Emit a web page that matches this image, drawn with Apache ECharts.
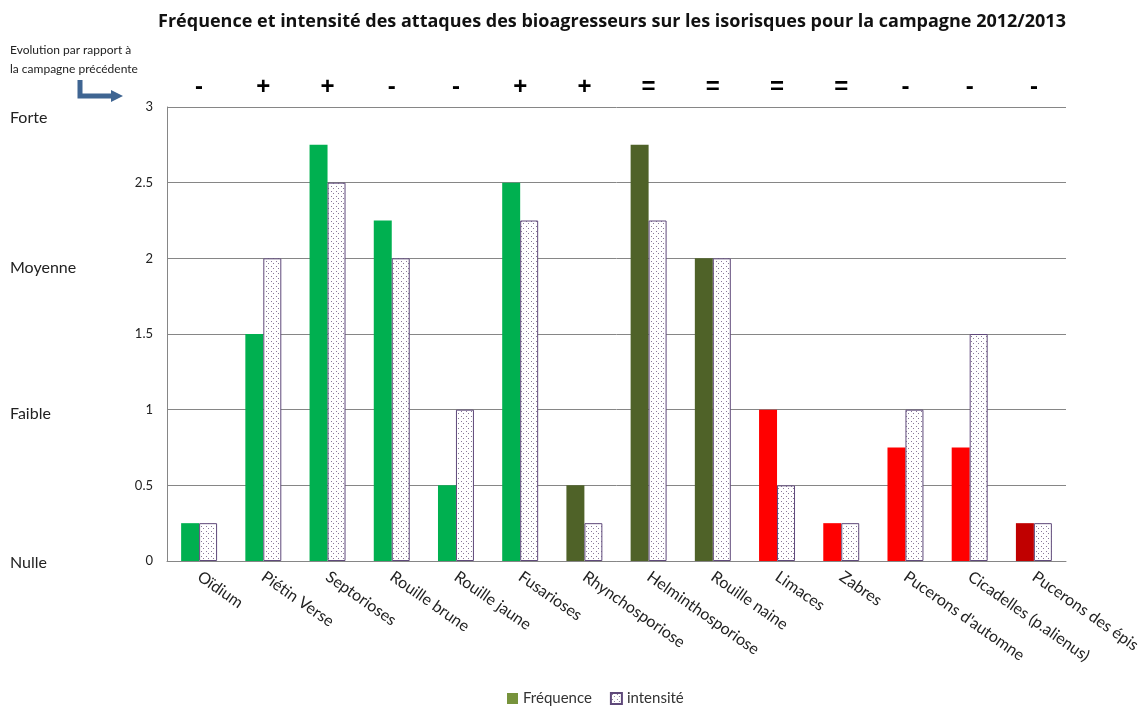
<!DOCTYPE html>
<html><head><meta charset="utf-8">
<script src="https://cdn.jsdelivr.net/npm/echarts@6/dist/echarts.min.js"></script>
<style>html,body{margin:0;background:#fff}#c{width:1146px;height:706px}</style>
</head><body><div id="c"></div><script>
// Bioagresseurs suivis
const categories = ['Oïdium', 'Piétin Verse', 'Septorioses', 'Rouille brune', 'Rouille jaune', 'Fusarioses',
  'Rhynchosporiose', 'Helminthosporiose', 'Rouille naine', 'Limaces', 'Zabres', "Pucerons d'automne",
  'Cicadelles (p.alienus)', 'Pucerons des épis'];
// Fréquence des attaques (0 = nulle ... 3 = forte)
const frequence = [0.25, 1.5, 2.75, 2.25, 0.5, 2.5, 0.5, 2.75, 2, 1, 0.25, 0.75, 0.75, 0.25];
// Intensité des attaques
const intensite = [0.25, 2, 2.5, 2, 1, 2.25, 0.25, 2.25, 2, 0.5, 0.25, 1, 1.5, 0.25];
// Evolution par rapport à la campagne précédente
const evolution = ['-', '+', '+', '-', '-', '+', '+', '=', '=', '=', '=', '-', '-', '-'];
// Niveaux qualitatifs de l'échelle
const niveauxValeurs = [0, 1, 2, 3];
const niveauxNoms = ['Nulle', 'Faible', 'Moyenne', 'Forte'];

// Couleur de chaque barre de fréquence
const couleursFreq = ['#00B050', '#00B050', '#00B050', '#00B050', '#00B050', '#00B050',
  '#4F6228', '#4F6228', '#4F6228', '#FF0000', '#FF0000', '#FF0000', '#FF0000', '#C00000'];
// Décalage vertical de chaque libellé de niveau
const niveauxStyles = ['n0', 'n1', 'n2', 'n3'];

// Motif pointillé pour l'intensité
function dotPattern() {
  const c = document.createElement('canvas');
  c.width = 5; c.height = 5;
  const g = c.getContext('2d');
  g.fillStyle = '#ffffff'; g.fillRect(0, 0, 5, 5);
  g.fillStyle = '#8a7a9a';
  g.fillRect(1, 1, 1, 1);
  g.fillRect(3, 3, 1, 1);
  return { image: c, repeat: 'repeat' };
}

const font = 'Lato, "Open Sans", sans-serif';
const niveauTexte = { fontSize: 16, color: '#222', fontFamily: font };
const chart = echarts.init(document.getElementById('c'));
chart.setOption({
  animation: false,
  backgroundColor: '#fff',
  textStyle: { fontFamily: font, color: '#222' },
  title: {
    text: 'Fréquence et intensité des attaques des bioagresseurs sur les isorisques pour la campagne 2012/2013',
    left: 607, top: 8, textAlign: 'center',
    textStyle: { fontFamily: '"Open Sans", sans-serif', fontSize: 18, fontWeight: 'bold', color: '#111' }
  },
  legend: {
    top: 686, left: 502, itemWidth: 11, itemHeight: 11, itemGap: 18, icon: 'rect',
    textStyle: { fontFamily: font, fontSize: 15, color: '#333' },
    data: [
      { name: 'Fréquence', itemStyle: { color: '#77933C', borderWidth: 0 } },
      { name: 'intensité' }
    ]
  },
  grid: { left: 167, right: 80, top: 107, bottom: 145 },
  xAxis: [
    {
      type: 'category', data: categories, position: 'bottom',
      axisLine: { lineStyle: { color: '#868686' } },
      axisTick: { show: false },
      axisLabel: { interval: 0, rotate: -35, fontSize: 16, color: '#222', margin: 14, fontFamily: font }
    },
    {
      type: 'category', data: categories, position: 'top',
      axisLine: { show: false }, axisTick: { show: false },
      axisLabel: {
        interval: 0, margin: 8, fontSize: 24, fontWeight: 'bold', color: '#000',
        fontFamily: '"Liberation Sans", Arial, sans-serif',
        formatter: (v, i) => evolution[i]
      }
    }
  ],
  yAxis: [
    {
      type: 'value', min: 0, max: 3, interval: 0.5,
      axisLine: { show: true, lineStyle: { color: '#868686' } },
      axisTick: { show: false },
      splitLine: { lineStyle: { color: '#868686', width: 1 } },
      axisLabel: { fontSize: 13, color: '#222', margin: 14, fontFamily: font }
    },
    {
      type: 'value', min: 0, max: 3, interval: 1, position: 'left',
      axisLine: { show: false }, axisTick: { show: false }, splitLine: { show: false },
      axisLabel: {
        align: 'left', margin: 157, fontSize: 16, color: '#222', fontFamily: font,
        formatter: v => {
          const k = niveauxValeurs.indexOf(v);
          return k < 0 ? '' : '{' + niveauxStyles[k] + '|' + niveauxNoms[k] + '}';
        },
        rich: {
          n0: Object.assign({ padding: [4, 0, 0, 0] }, niveauTexte),
          n1: Object.assign({ padding: [8, 0, 0, 0] }, niveauTexte),
          n2: Object.assign({ padding: [20, 0, 0, 0] }, niveauTexte),
          n3: Object.assign({ padding: [22, 0, 0, 0] }, niveauTexte)
        }
      }
    }
  ],
  series: [
    {
      name: 'Fréquence', type: 'bar', barGap: '0%', barCategoryGap: '44%',
      data: frequence.map((v, i) => ({ value: v, itemStyle: { color: couleursFreq[i] } })),
      itemStyle: { color: '#77933C' }
    },
    {
      name: 'intensité', type: 'bar',
      data: intensite,
      itemStyle: { color: dotPattern(), borderColor: '#5F497A', borderWidth: 1 }
    }
  ],
  graphic: [
    {
      type: 'text', left: 10, top: 41,
      style: { text: 'Evolution par rapport à\nla campagne précédente', font: '12px ' + font, fill: '#222', lineHeight: 19 }
    },
    {
      type: 'polyline', shape: { points: [[80, 80], [80, 96], [112, 96]] },
      style: { stroke: '#3F6592', lineWidth: 5, fill: null }
    },
    {
      type: 'polygon', shape: { points: [[111, 90], [123, 96], [111, 102]] },
      style: { fill: '#3F6592' }
    }
  ]
});
</script></body></html>
